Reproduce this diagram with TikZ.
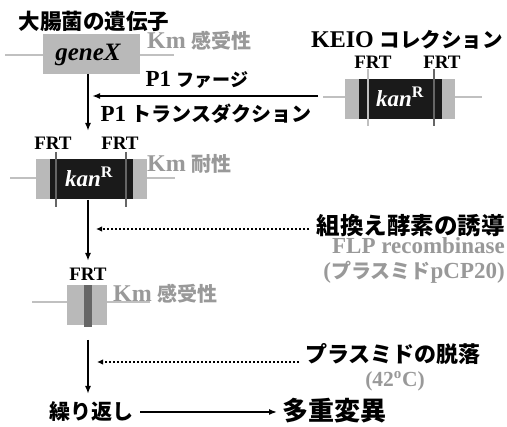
\documentclass[tikz,border=0pt]{standalone}
\usepackage{fontspec}
\setmainfont{Liberation Serif}
\newfontfamily\cjk{Noto Sans CJK JP}
\usetikzlibrary{arrows.meta}
\newcommand\jp[1]{{\cjk\bfseries #1}}
\newcommand\fs[1]{\fontsize{#1}{#1}\selectfont}
\definecolor{lgray}{HTML}{C0C0C0}
\definecolor{boxgray}{HTML}{B9B9B9}
\definecolor{tgray}{HTML}{999999}
\definecolor{dgray}{HTML}{666666}
\definecolor{blk}{HTML}{1A1A1A}
\begin{document}
\begin{tikzpicture}[x=1pt,y=-1pt,
  gline/.style={line width=2.5pt, draw=lgray},
  gbox/.style={fill=boxgray, draw=none, inner sep=0pt},
  bbox/.style={fill=blk, draw=none, inner sep=0pt},
  frtl/.style={line width=2.5pt, draw=lgray},
  frtd/.style={line width=2.5pt, draw=dgray},
  tip/.style={-{Latex[length=8pt,width=6pt,sep=0pt]}},
  arr/.style={line width=2pt, tip},
  darr/.style={line width=1.6pt, dash pattern=on 1.6pt off 2.4pt, -{Latex[length=6pt,width=5.5pt]}},
  txt/.style={inner sep=0pt, font=\bfseries},
  frt/.style={txt, font=\bfseries\fs{19}}
]
\useasboundingbox (0,0) rectangle (507,427);

% ---------- geneX construct ----------
\coordinate (gL) at (5,55);
\coordinate (gR) at (174,55);
\draw[gline] (gL) -- (gR);
\node[gbox, minimum width=97pt, minimum height=40pt] (gx) at (91.5,54) {};
\node[txt, font=\bfseries\itshape\fs{25}] (gxt) at (88,55) {geneX};
\node[txt] (title) at (94,21) {\jp{\fs{21.5}大腸菌の遺伝子}};
\node[txt, text=tgray, anchor=west] (km1) at (147,41) {\fs{24}Km \jp{\fs{20}感受性}};

% ---------- KEIO construct ----------
\node[txt, anchor=east] (keio) at (503,40) {\fs{24}KEIO \jp{\fs{20.5}コレクション}};
\coordinate (kL) at (323,97);
\coordinate (kR) at (482,97);
\draw[gline] (kL) -- (kR);
\node[gbox, minimum width=110pt, minimum height=40pt] (kout) at (400,99) {};
\node[bbox, minimum width=83pt, minimum height=40pt] (kin) at (400.5,99) {};
\draw[frtl] (368,69) -- (368,126);
\draw[frtd] (434,69) -- (434,126);
\node[txt, text=white, font=\bfseries\fs{23}] (kant) at (400,97) {\textit{kan}\textsuperscript{R}};
\node[frt] (f1) at (373,62) {FRT};
\node[frt] (f2) at (442,62) {FRT};

% ---------- P1 arrow ----------
\coordinate (p1s) at (318,96);
\coordinate (p1e) at (92,96);
\draw[arr] (p1s) -- (p1e);
\node[txt] (p1a) at (197,80) {\fs{23}P1 \jp{\fs{18}ファージ}};
\node[txt] (p1b) at (206,114) {\fs{23}P1 \jp{\fs{20}トランスダクション}};

% ---------- arrow 1 ----------
\coordinate (a1s) at (88,74);
\coordinate (a1e) at (88,131);
\draw[arr] (a1s) -- (a1e);

% ---------- kanR construct ----------
\coordinate (cL) at (10,178);
\coordinate (cR) at (175,178);
\draw[gline] (cL) -- (cR);
\node[gbox, minimum width=111pt, minimum height=40pt] (cout) at (91.5,179) {};
\node[bbox, minimum width=83pt, minimum height=40pt] (cin) at (91.5,179) {};
\draw[frtd] (56,152) -- (56,207);
\draw[frtd] (126,152) -- (126,207);
\node[txt, text=white, font=\bfseries\fs{23}] (cant) at (89,177) {\textit{kan}\textsuperscript{R}};
\node[frt] (f3) at (53,143) {FRT};
\node[frt] (f4) at (120,143) {FRT};
\node[txt, text=tgray, anchor=west] (km2) at (147,164) {\fs{24}Km \jp{\fs{20}耐性}};

% ---------- arrow 2 + recombinase ----------
\coordinate (a2s) at (88,200);
\coordinate (a2e) at (88,261);
\draw[arr] (a2s) -- (a2e);
\node[txt, anchor=east] (rec) at (505,226) {\jp{\fs{23.5}組換え酵素の誘導}};
\coordinate (d1s) at (309,229);
\coordinate (d1e) at (96,229);
\draw[darr] (d1s) -- (d1e);
\node[txt, anchor=east, text=tgray] (flp) at (505,246) {\fs{23}FLP recombinase};
\node[txt, anchor=east, text=tgray] (pcp) at (505,272) {\fs{23}(\jp{\fs{20}プラスミド}pCP20)};

% ---------- FRT scar construct ----------
\coordinate (sL) at (32,302);
\coordinate (sR) at (150,302);
\draw[gline] (sL) -- (sR);
\node[gbox, minimum width=40pt, minimum height=40pt] (sbox) at (87,305) {};
\fill[dgray] (84,285) rectangle (92,327);
\node[frt] (f5) at (88,274) {FRT};
\node[txt, text=tgray, anchor=west] (km3) at (113,294) {\fs{24}Km \jp{\fs{20}感受性}};

% ---------- arrow 3 + plasmid loss ----------
\coordinate (a3s) at (88,340);
\coordinate (a3e) at (88,394);
\draw[arr] (a3s) -- (a3e);
\node[txt, anchor=west] (loss) at (305,354) {\jp{\fs{22}プラスミドの脱落}};
\coordinate (d2s) at (299,362);
\coordinate (d2e) at (97,362);
\draw[darr] (d2s) -- (d2e);
\node[txt, text=tgray] (temp) at (395,381) {\fs{21.5}(42\textsuperscript{o}C)};

% ---------- bottom ----------
\node[txt] (rep) at (91,412) {\jp{\fs{21}繰り返し}};
\node[txt] (multi) at (334,411) {\jp{\fs{26}多重変異}};
\coordinate (bs) at (140,412);
\coordinate (be) at (277,412);
\draw[line width=1.5pt, tip] (bs) -- (be);
\end{tikzpicture}
\end{document}
